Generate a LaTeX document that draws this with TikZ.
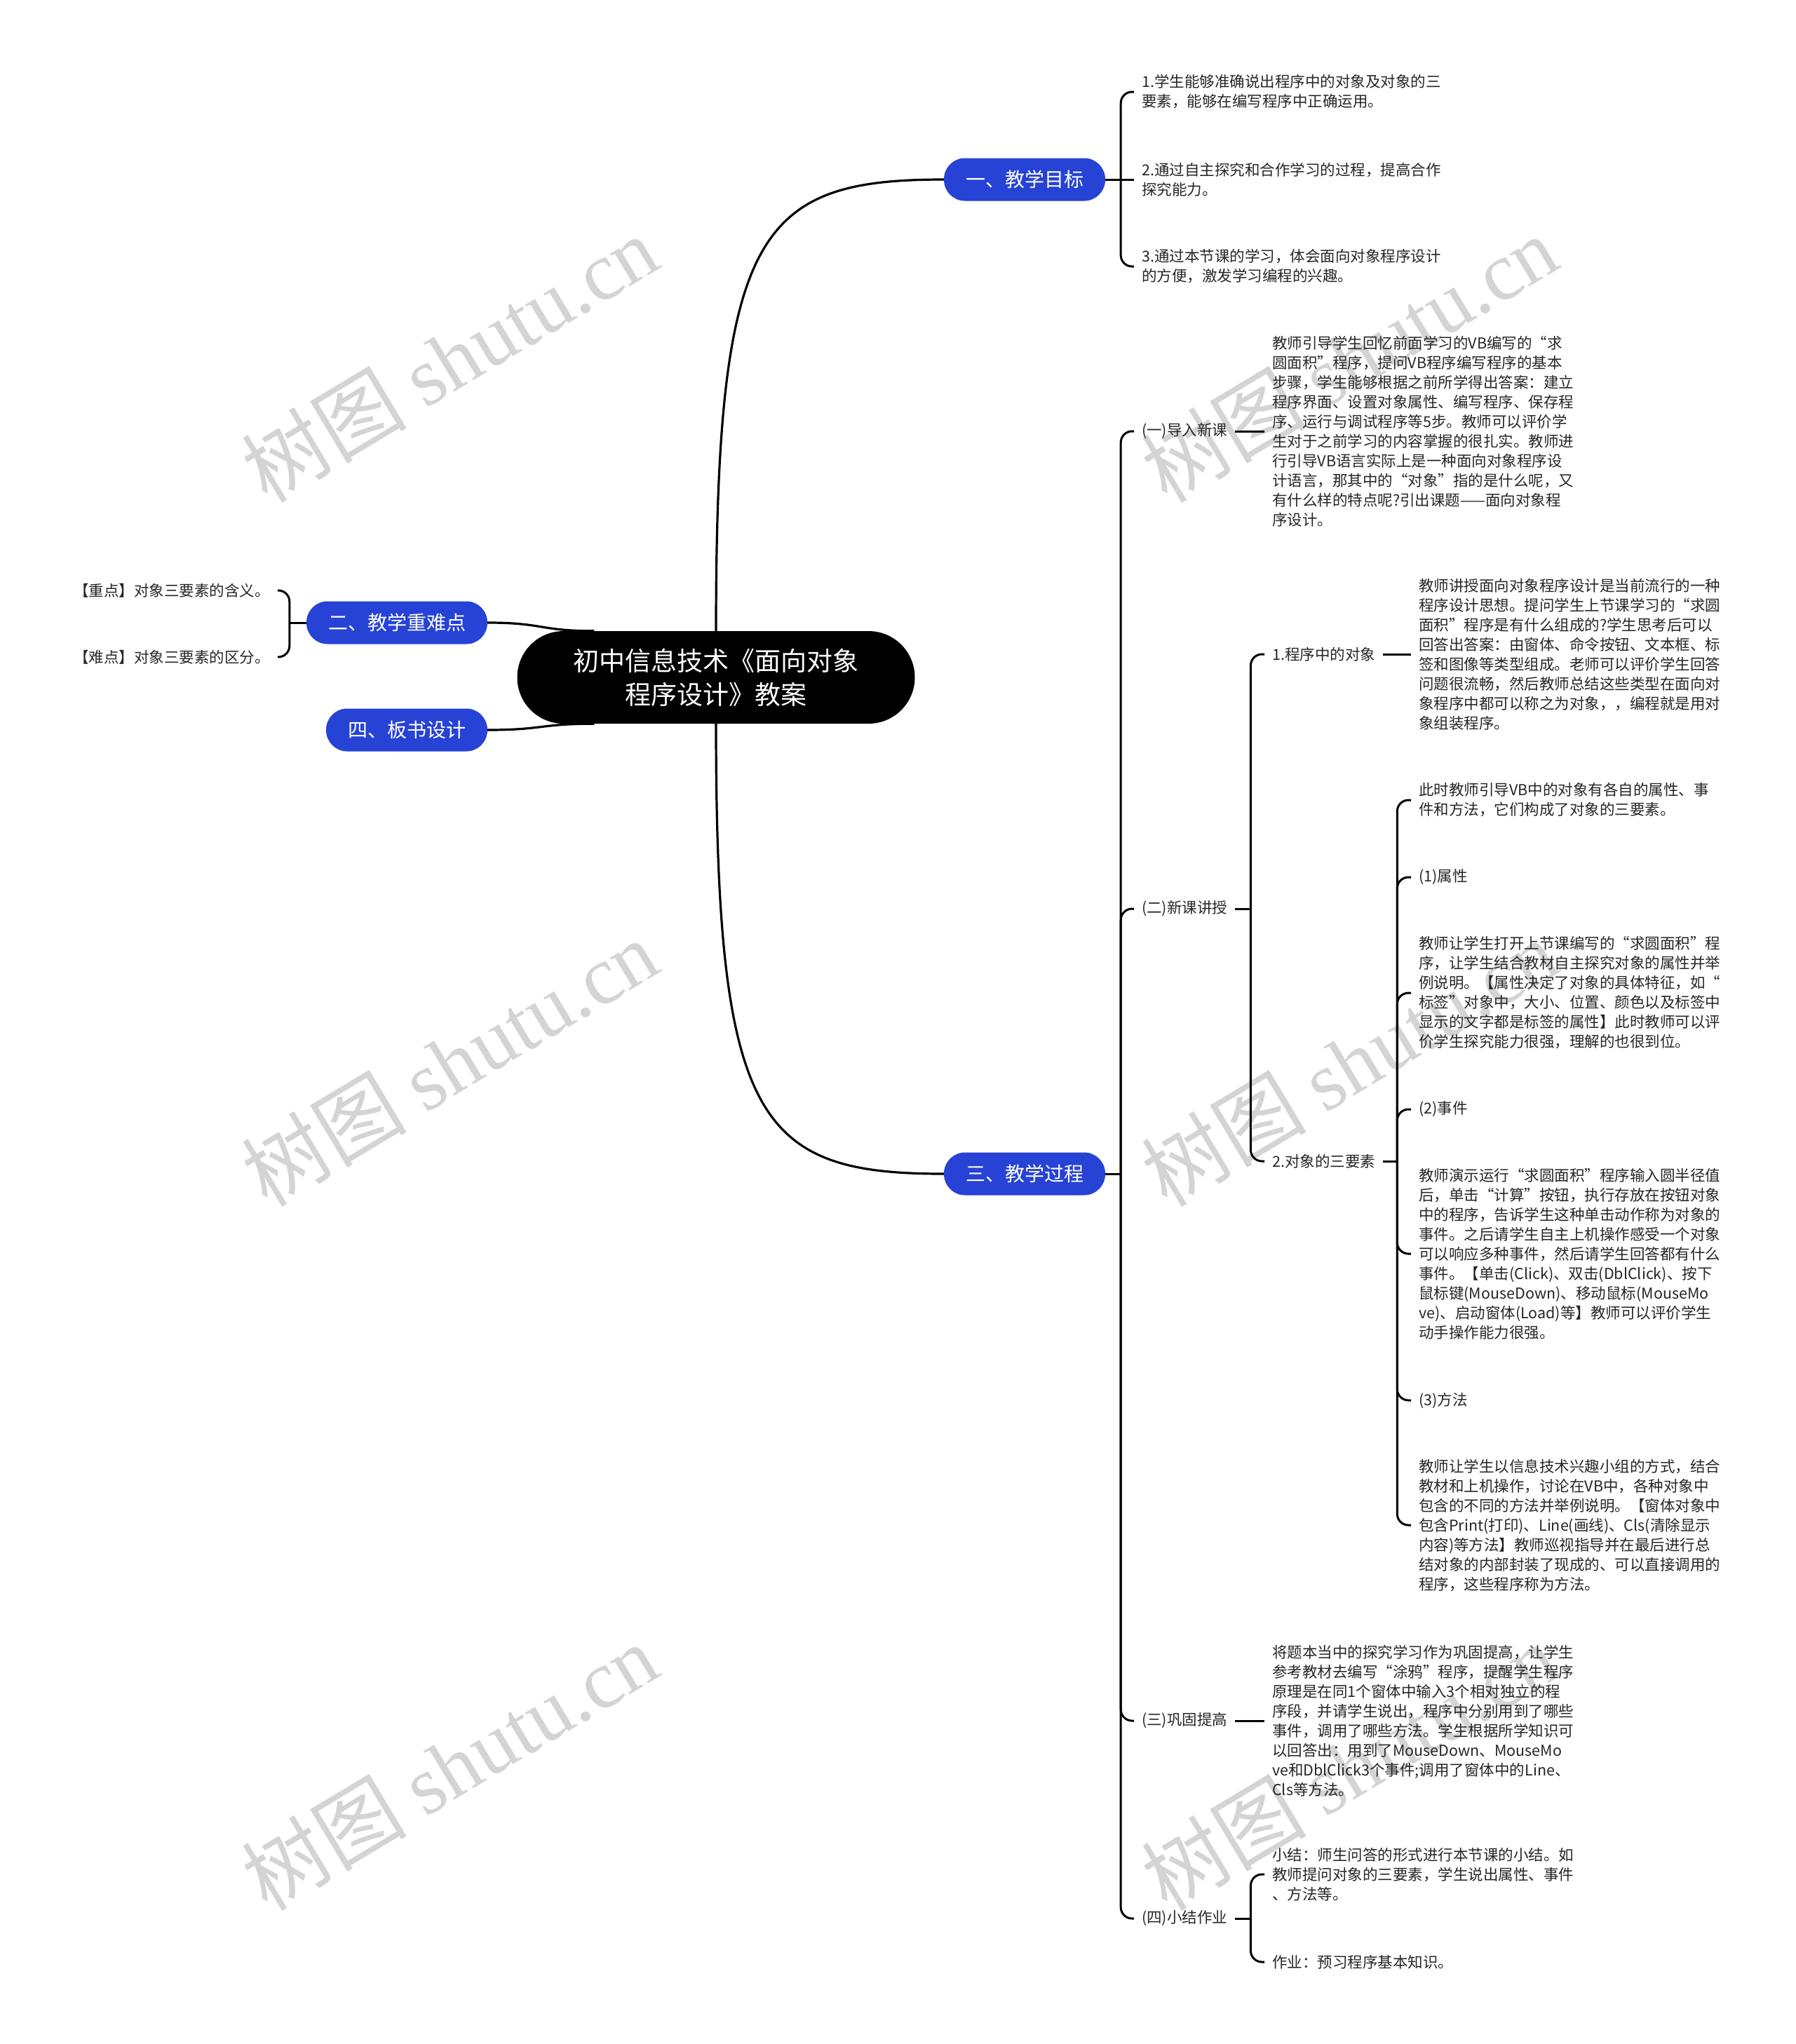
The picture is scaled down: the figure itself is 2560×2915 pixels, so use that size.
\documentclass[tikz,border=0pt]{standalone}
\usepackage{fontspec}
\setmainfont{Noto Sans CJK SC}
\newfontfamily\wmserif{Liberation Serif}
\usepackage{tikz}
\definecolor{topicblue}{HTML}{2743D6}
\definecolor{leaftext}{HTML}{262626}

\begin{document}
\begin{tikzpicture}[x=1pt,y=-1pt,
  topic/.style={fill=topicblue,text=white,rounded corners=30,minimum height=61,inner xsep=31,font=\fontsize{28}{34}\selectfont},
  leaf/.style={anchor=west,align=left,inner xsep=11,inner ysep=2,text=leaftext,font=\fontsize{21.5}{28}\selectfont},
  link/.style={line width=3,rounded corners=16},
  mainline/.style={line width=3.2},
  wmark/.style={text=black!17,rotate=31,font=\fontsize{118}{118}\selectfont}]
\fill[white] (0,0) rectangle (2560,2915);
\useasboundingbox (0,0) rectangle (2560,2915);
\foreach \wx/\wy in {641/511,641/1515,641/2519,1924/511,1924/1515,1924/2519}
  \node[wmark] at (\wx,\wy) {树图 {\wmserif shutu.cn}};

\node[fill=black,text=white,rounded corners=66,minimum width=567,minimum height=132,align=center,font=\fontsize{37}{48}\selectfont] (root) at (1021,966) {初中信息技术《面向对象\\程序设计》教案};

\node[topic] (goal) at (1461,256) {一、教学目标};
\node[topic] (keypt) at (566,888) {二、教学重难点};
\node[topic] (proc) at (1461,1674) {三、教学过程};
\node[topic] (board) at (580,1041) {四、板书设计};

\draw[mainline] (root.north) .. controls (1021,330) and (1080,256) .. (goal.west);
\draw[mainline] (root.south) .. controls (1021,1600) and (1080,1674) .. (proc.west);
\draw[mainline] (keypt.east) .. controls (775,888) and (770,900) .. ([xshift=110]root.north west);
\draw[mainline] (board.east) .. controls (775,1041) and (770,1032) .. ([xshift=110]root.south west);

\node[leaf] (goal1) at (1617,131) {1.学生能够准确说出程序中的对象及对象的三\\要素，能够在编写程序中正确运用。};
\node[leaf] (goal2) at (1617,256) {2.通过自主探究和合作学习的过程，提高合作\\探究能力。};
\node[leaf] (goal3) at (1617,380) {3.通过本节课的学习，体会面向对象程序设计\\的方便，激发学习编程的兴趣。};

\node[leaf,anchor=east] (key1) at (396,842) {【重点】对象三要素的含义。};
\node[leaf,anchor=east] (key2) at (396,937) {【难点】对象三要素的区分。};

\node[leaf] (intro) at (1617,615) {(一)导入新课};
\node[leaf] (introtxt) at (1803,615) {教师引导学生回忆前面学习的VB编写的“求\\圆面积”程序，提问VB程序编写程序的基本\\步骤，学生能够根据之前所学得出答案：建立\\程序界面、设置对象属性、编写程序、保存程\\序、运行与调试程序等5步。教师可以评价学\\生对于之前学习的内容掌握的很扎实。教师进\\行引导VB语言实际上是一种面向对象程序设\\计语言，那其中的“对象”指的是什么呢，又\\有什么样的特点呢?引出课题——面向对象程\\序设计。};

\node[leaf] (newl) at (1617,1296) {(二)新课讲授};
\node[leaf] (obj) at (1803,933) {1.程序中的对象};
\node[leaf] (objtxt) at (2012,933) {教师讲授面向对象程序设计是当前流行的一种\\程序设计思想。提问学生上节课学习的“求圆\\面积”程序是有什么组成的?学生思考后可以\\回答出答案：由窗体、命令按钮、文本框、标\\签和图像等类型组成。老师可以评价学生回答\\问题很流畅，然后教师总结这些类型在面向对\\象程序中都可以称之为对象，，编程就是用对\\象组装程序。};
\node[leaf] (three) at (1803,1656) {2.对象的三要素};
\node[leaf] (t1) at (2012,1141) {此时教师引导VB中的对象有各自的属性、事\\件和方法，它们构成了对象的三要素。};
\node[leaf] (t2) at (2012,1251) {(1)属性};
\node[leaf] (t3) at (2012,1416) {教师让学生打开上节课编写的“求圆面积”程\\序，让学生结合教材自主探究对象的属性并举\\例说明。【属性决定了对象的具体特征，如“\\标签”对象中，大小、位置、颜色以及标签中\\显示的文字都是标签的属性】此时教师可以评\\价学生探究能力很强，理解的也很到位。};
\node[leaf] (t4) at (2012,1582) {(2)事件};
\node[leaf] (t5) at (2012,1788) {教师演示运行“求圆面积”程序输入圆半径值\\后，单击“计算”按钮，执行存放在按钮对象\\中的程序，告诉学生这种单击动作称为对象的\\事件。之后请学生自主上机操作感受一个对象\\可以响应多种事件，然后请学生回答都有什么\\事件。【单击(Click)、双击(DblClick)、按下\\鼠标键(MouseDown)、移动鼠标(MouseMo\\ve)、启动窗体(Load)等】教师可以评价学生\\动手操作能力很强。};
\node[leaf] (t6) at (2012,1997) {(3)方法};
\node[leaf] (t7) at (2012,2175) {教师让学生以信息技术兴趣小组的方式，结合\\教材和上机操作，讨论在VB中，各种对象中\\包含的不同的方法并举例说明。【窗体对象中\\包含Print(打印)、Line(画线)、Cls(清除显示\\内容)等方法】教师巡视指导并在最后进行总\\结对象的内部封装了现成的、可以直接调用的\\程序，这些程序称为方法。};

\node[leaf] (cons) at (1617,2454) {(三)巩固提高};
\node[leaf] (constxt) at (1803,2454) {将题本当中的探究学习作为巩固提高，让学生\\参考教材去编写“涂鸦”程序，提醒学生程序\\原理是在同1个窗体中输入3个相对独立的程\\序段，并请学生说出，程序中分别用到了哪些\\事件，调用了哪些方法。学生根据所学知识可\\以回答出：用到了MouseDown、MouseMo\\ve和DblClick3个事件;调用了窗体中的Line、\\Cls等方法。};

\node[leaf] (summ) at (1617,2736) {(四)小结作业};
\node[leaf] (summ1) at (1803,2673) {小结：师生问答的形式进行本节课的小结。如\\教师提问对象的三要素，学生说出属性、事件\\、方法等。};
\node[leaf] (summ2) at (1803,2798) {作业：预习程序基本知识。};

\draw[link] (goal.east) -- ++(22,0) coordinate (gb) -- (goal2.west);
\draw[link] (gb) |- (goal1.west);
\draw[link] (gb) |- (goal3.west);

\draw[link] (keypt.west) -- ++(-24,0) coordinate (kb);
\draw[link] (kb) |- (key1.east);
\draw[link] (kb) |- (key2.east);

\draw[link] (proc.east) -- ++(22,0) coordinate (pb);
\foreach \n in {intro,newl,cons,summ} \draw[link] (pb) |- (\n.west);
\draw[link] (intro.east) -- (introtxt.west);
\draw[link] (newl.east) -- ++(22,0) coordinate (nb);
\foreach \n in {obj,three} \draw[link] (nb) |- (\n.west);
\draw[link] (obj.east) -- (objtxt.west);
\draw[link] (three.east) -- ++(20,0) coordinate (tb);
\foreach \n in {t1,t2,t3,t4,t5,t6,t7} \draw[link] (tb) |- (\n.west);
\draw[link] (cons.east) -- (constxt.west);
\draw[link] (summ.east) -- ++(22,0) coordinate (sb);
\foreach \n in {summ1,summ2} \draw[link] (sb) |- (\n.west);
\end{tikzpicture}
\end{document}
